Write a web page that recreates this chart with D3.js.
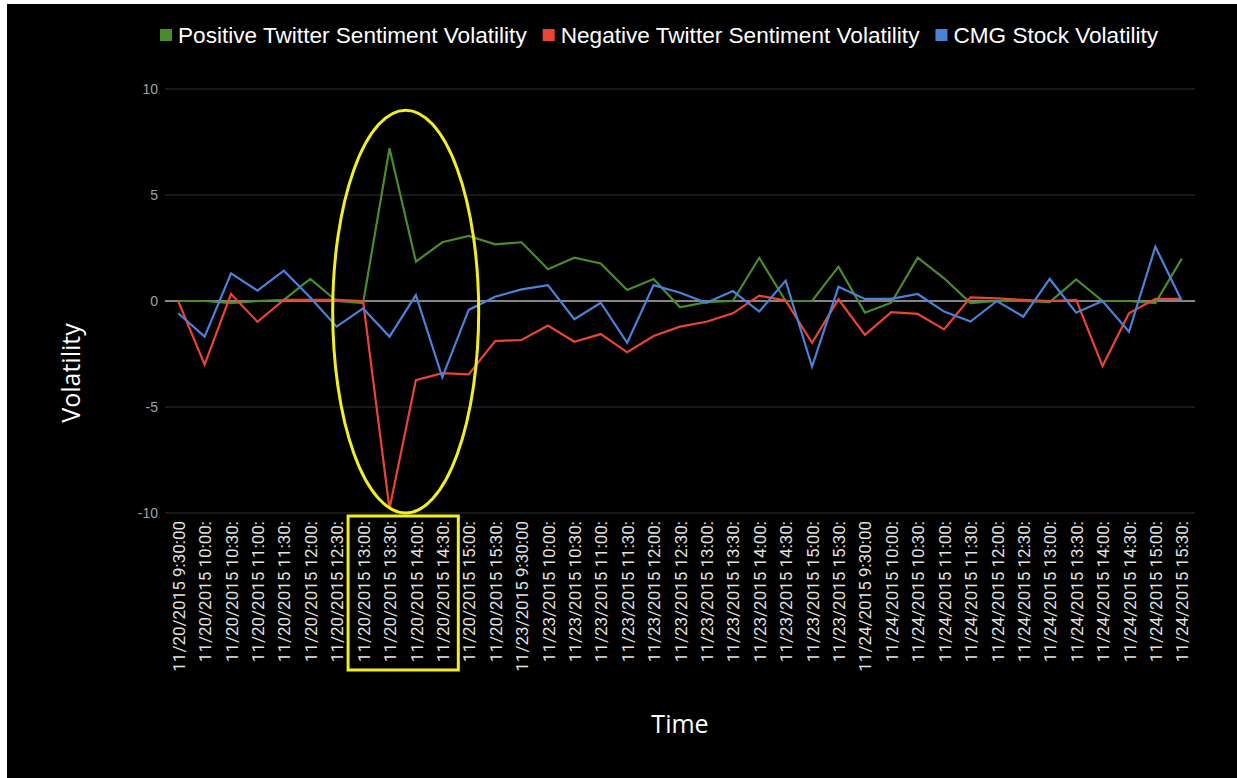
<!DOCTYPE html>
<html>
<head>
<meta charset="utf-8">
<script src="https://cdn.jsdelivr.net/npm/d3@7"></script>
<style>
  body { margin: 0; background: #ffffff; }
  svg { display: block; }
</style>
</head>
<body>
<div id="chart"></div>
<script>

// time slots shown on the x axis (labels are cut off as in the source)
var times = [
    "11/20/2015 9:30:00", "11/20/2015 10:00:", "11/20/2015 10:30:", "11/20/2015 11:00:",
    "11/20/2015 11:30:", "11/20/2015 12:00:", "11/20/2015 12:30:", "11/20/2015 13:00:",
    "11/20/2015 13:30:", "11/20/2015 14:00:", "11/20/2015 14:30:", "11/20/2015 15:00:",
    "11/20/2015 15:30:",
    "11/23/2015 9:30:00", "11/23/2015 10:00:", "11/23/2015 10:30:", "11/23/2015 11:00:",
    "11/23/2015 11:30:", "11/23/2015 12:00:", "11/23/2015 12:30:", "11/23/2015 13:00:",
    "11/23/2015 13:30:", "11/23/2015 14:00:", "11/23/2015 14:30:", "11/23/2015 15:00:",
    "11/23/2015 15:30:",
    "11/24/2015 9:30:00", "11/24/2015 10:00:", "11/24/2015 10:30:", "11/24/2015 11:00:",
    "11/24/2015 11:30:", "11/24/2015 12:00:", "11/24/2015 12:30:", "11/24/2015 13:00:",
    "11/24/2015 13:30:", "11/24/2015 14:00:", "11/24/2015 14:30:", "11/24/2015 15:00:",
    "11/24/2015 15:30:"
];

var positiveVol = [
    0, 0, -0.1, 0, 0.05, 1.04, 0, -0.1, 7.2, 1.86, 2.77, 3.07, 2.67,
    2.77, 1.5, 2.04, 1.77, 0.52, 1.04, -0.3, -0.05, 0, 2.04, 0, 0, 1.62,
    -0.55, -0.08, 2.04, 1.07, -0.1, 0, 0, -0.05, 1.02, 0, 0, -0.1, 2.0
];

var negativeVol = [
    0, -3.0, 0.33, -0.98, 0.05, 0.05, 0.05, 0, -9.8, -3.73, -3.4, -3.46, -1.89,
    -1.84, -1.16, -1.92, -1.56, -2.42, -1.65, -1.21, -0.98, -0.58, 0.25, 0.02, -1.97, 0.08,
    -1.6, -0.53, -0.61, -1.34, 0.17, 0.12, 0.05, 0, 0.05, -3.07, -0.58, 0.1, 0.1
];

var stockVol = [
    -0.58, -1.68, 1.3, 0.49, 1.43, 0.17, -1.21, -0.35, -1.68, 0.28, -3.6, -0.42, 0.2,
    0.55, 0.75, -0.86, -0.08, -1.97, 0.75, 0.39, -0.08, 0.47, -0.5, 0.96, -3.1, 0.67,
    0.1, 0.1, 0.33, -0.5, -0.97, 0, -0.74, 1.04, -0.55, 0, -1.45, 2.56, 0
];

var seriesNames = ["Positive Twitter Sentiment Volatility", "Negative Twitter Sentiment Volatility", "CMG Stock Volatility"];
var seriesColors = ["#4a8c2c", "#ea4433", "#4a82d8"];
var yTicks = [-10, -5, 0, 5, 10];

// the highlighted time range (13:00 - 14:30 on 11/20)
var highlightFrom = "11/20/2015 13:00:",
    highlightTo = "11/20/2015 14:30:";

var series = [positiveVol, negativeVol, stockVol].map(function(vals, i) {
    return {name: seriesNames[i], color: seriesColors[i], values: vals};
});

var width = 1237,
    height = 778,
    plot = {left: 165, right: 1195, top: 89, bottom: 513};

var svg = d3.select("#chart").append("svg")
    .attr("width", width)
    .attr("height", height);

svg.append("rect")
    .attr("x", 7)
    .attr("y", 4)
    .attr("width", width - 7)
    .attr("height", height - 4)
    .style("fill", "#000000");

var x = d3.scalePoint()
    .domain(times)
    .range([plot.left, plot.right])
    .padding(0.5);

var y = d3.scaleLinear()
    .domain([-10, 10])
    .range([plot.bottom, plot.top]);

// gridlines
svg.append("g").selectAll("line")
    .data(yTicks)
    .enter().append("line")
    .attr("x1", plot.left)
    .attr("x2", plot.right)
    .attr("y1", function(d) { return y(d); })
    .attr("y2", function(d) { return y(d); })
    .style("stroke", function(d) { return d === 0 ? "#b0b0b0" : "#333333"; })
    .style("stroke-width", function(d) { return d === 0 ? 1.5 : 1; });

// y axis tick labels
var yAxis = svg.append("g")
    .attr("transform", "translate(" + (plot.left - 7) + ",0)")
    .call(d3.axisLeft(y).tickValues(yTicks).tickSize(0).tickPadding(0)
        .tickFormat(function(d) { return String(d); }));
yAxis.select(".domain").remove();
yAxis.selectAll("text")
    .style("fill", "#a0a0a0")
    .style("font-family", "'Liberation Sans', Arial, sans-serif")
    .style("font-size", "14px");

// x axis labels, vertical
var xAxis = svg.append("g")
    .attr("transform", "translate(0," + (plot.bottom + 8) + ")")
    .call(d3.axisBottom(x).tickSize(0).tickPadding(0));
xAxis.select(".domain").remove();
xAxis.selectAll("text")
    .attr("transform", "rotate(-90)")
    .attr("x", 0)
    .attr("y", 0)
    .attr("dy", "0.36em")
    .attr("text-anchor", "end")
    .style("fill", "#e2e2e2")
    .style("font-family", "Roboto, sans-serif")
    .style("font-size", "17px");

// lines
var line = d3.line()
    .x(function(d, i) { return x(times[i]); })
    .y(function(d) { return y(d); });

svg.append("g").selectAll("path")
    .data(series)
    .enter().append("path")
    .attr("d", function(d) { return line(d.values); })
    .style("fill", "none")
    .style("stroke", function(d) { return d.color; })
    .style("stroke-width", 2.2)
    .style("stroke-linejoin", "miter");

// annotations in yellow
var x0 = x(highlightFrom),
    x1 = x(highlightTo),
    mid = (x(times[times.indexOf(highlightFrom) + 1]) + x(times[times.indexOf(highlightTo) - 1])) / 2;

svg.append("ellipse")
    .attr("cx", mid + 3)
    .attr("cy", (y(9) + y(-10)) / 2)
    .attr("rx", 73)
    .attr("ry", (y(-10) - y(9)) / 2)
    .style("fill", "none")
    .style("stroke", "#f2ee22")
    .style("stroke-width", 3);

svg.append("rect")
    .attr("x", x0 - 15)
    .attr("y", plot.bottom + 3)
    .attr("width", (x1 - x0) + 31)
    .attr("height", 154)
    .style("fill", "none")
    .style("stroke", "#f2ee22")
    .style("stroke-width", 3);

// axis titles
svg.append("text")
    .attr("transform", "translate(80," + ((plot.top + plot.bottom) / 2 + 72) + ") rotate(-90)")
    .attr("text-anchor", "middle")
    .style("fill", "#ffffff")
    .style("font-family", "'Open Sans', sans-serif")
    .style("font-size", "25px")
    .text("Volatility");

svg.append("text")
    .attr("x", (plot.left + plot.right) / 2)
    .attr("y", 733)
    .attr("text-anchor", "middle")
    .style("fill", "#ffffff")
    .style("font-family", "'Open Sans', sans-serif")
    .style("font-size", "25px")
    .text("Time");

// legend
var legend = svg.append("g")
    .attr("transform", "translate(160,35)");

var lx = 0;
series.forEach(function(s) {
    var item = legend.append("g")
        .attr("transform", "translate(" + lx + ",0)");
    item.append("rect")
        .attr("x", 0)
        .attr("y", -6)
        .attr("width", 12)
        .attr("height", 12)
        .style("fill", s.color);
    var t = item.append("text")
        .attr("x", 18)
        .attr("dy", "0.35em")
        .style("fill", "#ffffff")
        .style("font-family", "'Liberation Sans', Arial, sans-serif")
        .style("font-size", "22.6px")
        .text(s.name);
    lx += 18 + t.node().getComputedTextLength() + 16;
});

</script>
</body>
</html>
